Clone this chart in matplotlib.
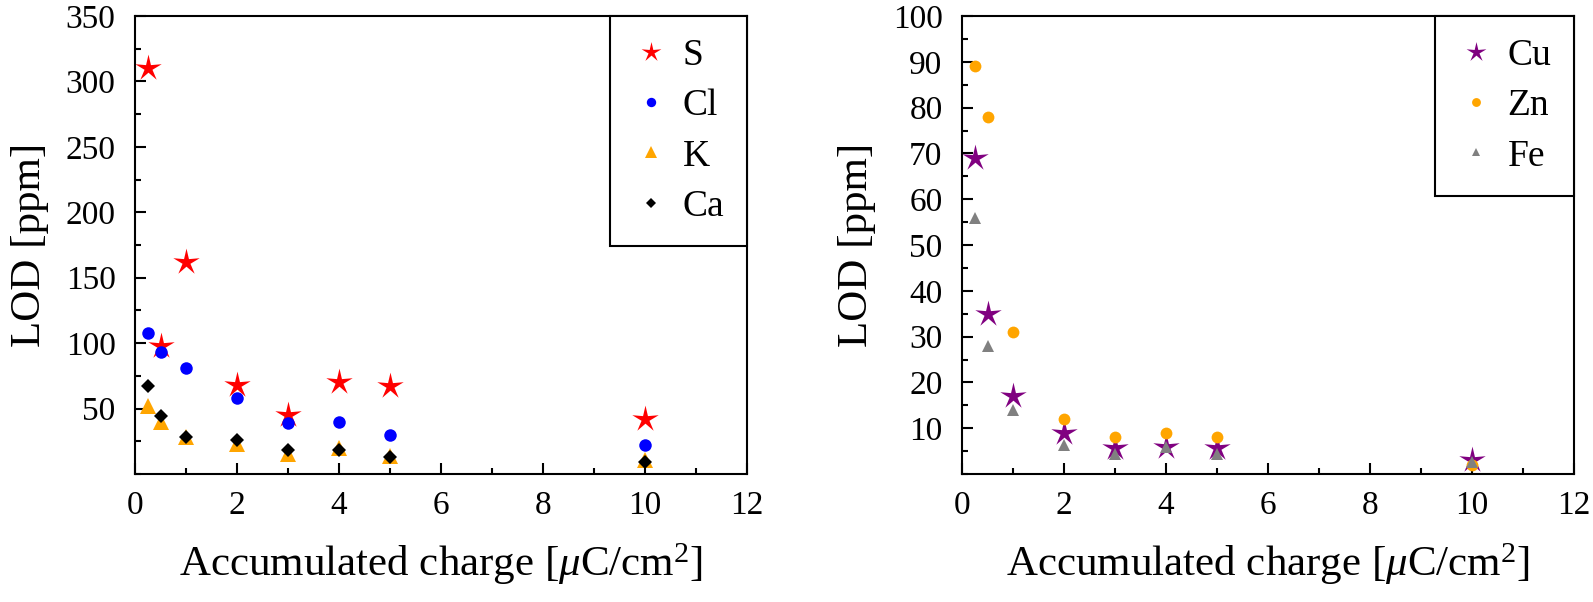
import numpy as np
import matplotlib
matplotlib.use("Agg")
import matplotlib.pyplot as plt
from matplotlib.ticker import MultipleLocator
from matplotlib.path import Path

plt.rcParams['font.family'] = ['Liberation Serif', 'DejaVu Serif']
plt.rcParams['mathtext.fontset'] = 'custom'
plt.rcParams['mathtext.it'] = 'Liberation Serif:italic'
plt.rcParams['mathtext.rm'] = 'Liberation Serif'

# accumulated charge [uC/cm^2]
charge = [0.25, 0.5, 1, 2, 3, 4, 5, 10]

# left panel, LOD [ppm]
lod_s = [310, 98, 162, 68, 45, 70, 67, 42]
lod_cl = [108, 93, 81, 58, 39, 40, 30, 22]
lod_k = [52, 40, 28, 23, 15, 20, 14, 11]
lod_ca = [67, 44, 28, 26, 18, 18, 13, 9]

# right panel, LOD [ppm]
lod_cu = [69, 35, 17, 9, 5.6, 5.9, 5.6, 3]
lod_zn = [89, 78, 31, 12, 8, 9, 8, 2]
lod_fe = [56, 28, 14, 6.3, 4.3, 6, 4.3, 2.7]

# thin five-pointed star marker, like the original
ang = np.pi / 2 + np.arange(10) * np.pi / 5
rad = np.where(np.arange(10) % 2 == 0, 1.0, 0.3)
star_verts = np.column_stack([rad * np.cos(ang), rad * np.sin(ang)])
thin_star = Path(np.vstack([star_verts, star_verts[:1]]), closed=True)

left_series = [
    ("S", lod_s, thin_star, "#ff0000", 20),
    ("Cl", lod_cl, "o", "#0000ff", 9),
    ("K", lod_k, "^", "#ffa500", 11),
    ("Ca", lod_ca, "D", "#000000", 7),
]
right_series = [
    ("Cu", lod_cu, thin_star, "#800080", 20),
    ("Zn", lod_zn, "o", "#ffa500", 8.5),
    ("Fe", lod_fe, "^", "#808080", 8.5),
]

fig = plt.figure(figsize=(15.93, 6.02), dpi=100)
ax1 = fig.add_axes([135 / 1593, 1 - 474 / 602, 612 / 1593, 458 / 602])
ax2 = fig.add_axes([962 / 1593, 1 - 474 / 602, 612 / 1593, 458 / 602])


def style_axis(ax, series, ymax, ymajor, yminor):
    for name, vals, mk, col, ms in series:
        ax.plot(charge, vals, linestyle="none", marker=mk, color=col,
                markersize=ms, markeredgewidth=0, label=name)
    ax.set_xlim(0, 12)
    ax.set_ylim(0, ymax)
    ax.xaxis.set_major_locator(MultipleLocator(2))
    ax.xaxis.set_minor_locator(MultipleLocator(1))
    ax.yaxis.set_major_locator(MultipleLocator(ymajor))
    ax.yaxis.set_minor_locator(MultipleLocator(yminor))
    ax.set_yticks(np.arange(ymajor, ymax + 1, ymajor))
    ax.tick_params(which="both", direction="in", top=False, right=False,
                   width=1.5, labelsize=24)
    ax.tick_params(which="major", length=8)
    ax.tick_params(which="minor", length=4.5)
    ax.tick_params(axis="x", pad=12)
    ax.tick_params(axis="y", pad=14)
    for sp in ax.spines.values():
        sp.set_linewidth(1.5)
    ax.set_xlabel(r"Accumulated charge [$\mathit{\mu}$C/cm$^2$]", fontsize=31, labelpad=14)
    ax.set_ylabel("LOD [ppm]", fontsize=31, labelpad=12)
    leg = ax.legend(loc="upper right", borderaxespad=0, fancybox=False,
                    edgecolor="black", fontsize=27, markerscale=0.75,
                    handletextpad=0.35, borderpad=0.6, labelspacing=0.42,
                    handlelength=1.0)
    leg.get_frame().set_linewidth(1.5)
    leg.get_frame().set_alpha(None)


style_axis(ax1, left_series, 350, 50, 25)
style_axis(ax2, right_series, 100, 10, 5)

fig.savefig("out.png", dpi=100)
